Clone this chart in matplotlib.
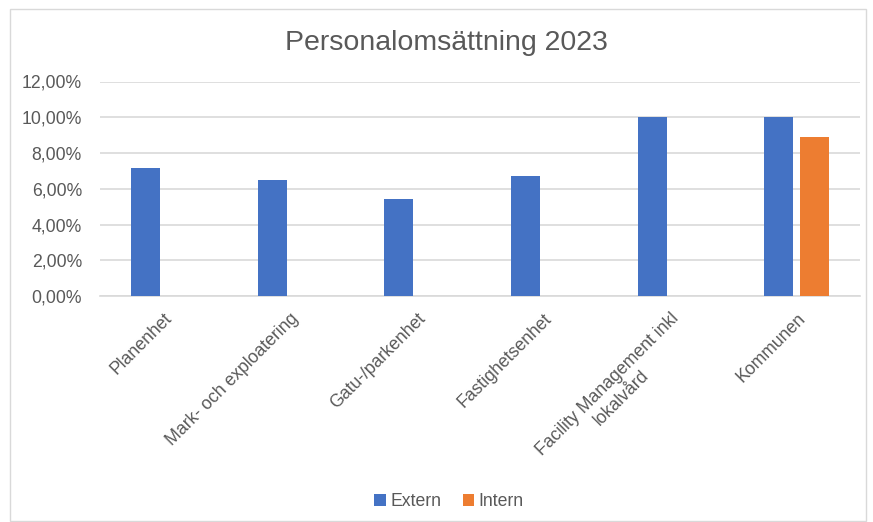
import matplotlib
matplotlib.use("Agg")
import matplotlib.pyplot as plt
from matplotlib.patches import Rectangle
from matplotlib.ticker import FuncFormatter
import numpy as np

plt.rcParams['font.family'] = ['Liberation Sans', 'DejaVu Sans']

categories = ["Planenhet", "Mark- och exploatering", "Gatu-/parkenhet",
              "Fastighetsenhet", "Facility Management inkl\nlokalvård", "Kommunen"]
extern = [7.15, 6.48, 5.42, 6.70, 10.0, 10.0]
intern = [0, 0, 0, 0, 0, 8.88]
yticks = [0, 2, 4, 6, 8, 10, 12]
title = "Personalomsättning 2023"

TXT = "#595959"
fig = plt.figure(figsize=(8.73, 5.22), dpi=100)
fig.patches.append(Rectangle((10/873, 1/522), 856/873, 512/522, transform=fig.transFigure,
                             fill=False, edgecolor="#D9D9D9", linewidth=1))
ax = fig.add_axes([100/873, 1-296/522, 760/873, (296-81.5)/522])

x = np.arange(len(categories))
w = 0.229
off = 0.142
ax.bar(x - off, extern, w, color="#4472C4", label="Extern", zorder=3)
ax.bar(x + off, intern, w, color="#ED7D31", label="Intern", zorder=3)

ax.set_xlim(-0.5, len(categories) - 0.5)
ax.set_ylim(0, 12)
ax.set_yticks(yticks)
ax.yaxis.set_major_formatter(FuncFormatter(lambda v, p: f"{v:.2f}".replace(".", ",") + "%"))
ax.grid(axis='y', color="#D9D9D9", linewidth=1.2, zorder=0)
for s in ["top", "right", "left"]:
    ax.spines[s].set_visible(False)
ax.spines["bottom"].set_color("#D9D9D9")
ax.spines["bottom"].set_linewidth(1.2)
ax.tick_params(axis='both', length=0, labelsize=12.7, labelcolor=TXT)
ax.tick_params(axis='y', pad=13)
ax.set_xticks(x)
ax.set_xticklabels(categories, rotation=45, ha='right', va='top',
                   rotation_mode='anchor', ma='center')
ax.tick_params(axis='x', pad=10)

fig.text(446/873, 1-43/522, title, ha='center', va='center', fontsize=20.5, color=TXT)
leg = fig.legend(loc='center', bbox_to_anchor=(449/873, 1-502/522), ncol=2, frameon=False,
                 fontsize=12.7, handlelength=0.65, handleheight=0.65, handletextpad=0.25,
                 columnspacing=1.2, labelcolor=TXT)

fig.savefig("out.png", dpi=100)
